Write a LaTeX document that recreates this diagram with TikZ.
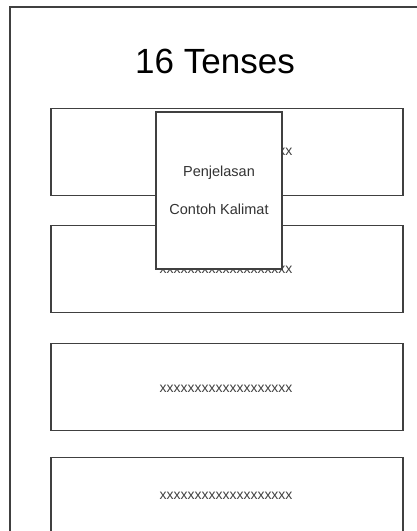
\documentclass[tikz,border=0pt]{standalone}
\usepackage{fontspec}
\setmainfont{Liberation Sans}
\usetikzlibrary{positioning}
\definecolor{frameline}{HTML}{404040}

\tikzset{
  tensebox/.style={draw=frameline, line width=1.4pt, minimum width=352pt, minimum height=87pt,
                   inner sep=0pt},
  isitext/.style={font=\fontsize{14}{16}\selectfont, text=black!75, inner sep=0pt},
  popbox/.style={draw=frameline, line width=1.4pt, fill=white, minimum width=126pt,
                 minimum height=157pt, inner sep=0pt},
  poptext/.style={font=\fontsize{14.5}{16}\selectfont, text=black!80, inner sep=0pt}
}

\begin{document}
\begin{tikzpicture}[x=1pt, y=-1pt]
  \useasboundingbox (0,0) rectangle (417,531);
  \clip (0,0) rectangle (417,531);
  \draw[frameline, line width=1.6pt] (10,7) rectangle (450,580);
  \node[font=\fontsize{35}{40}\selectfont, anchor=base, inner sep=0pt] (title) at (215,73) {16 Tenses};
  \foreach \y/\t [count=\i] in {152/152, 269/270, 387/389, 501/496}
    {
      \node[tensebox] (tense\i) at (227,\y) {};
      \node[isitext] (isi\i) at (226,\t) {xxxxxxxxxxxxxxxxxxx};
    }
  \node[popbox] (popup) at (219,190.5) {};
  \node[poptext, anchor=base] (jelas) at (219,176) {Penjelasan};
  \node[poptext, anchor=base] (contoh) at (219,214) {Contoh Kalimat};
\end{tikzpicture}
\end{document}
